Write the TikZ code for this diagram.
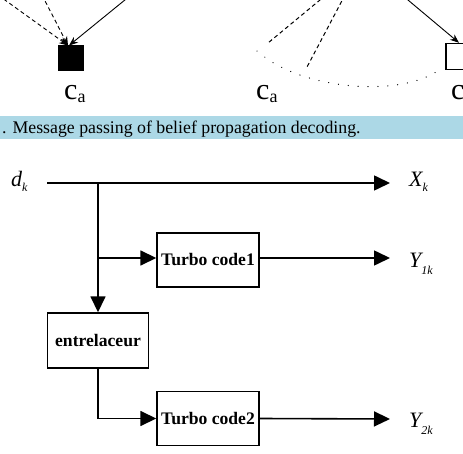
\documentclass[tikz,border=0pt]{standalone}
\usepackage{fontspec}
\setmainfont{Liberation Serif}
\usetikzlibrary{arrows.meta,positioning}
\definecolor{capblue}{RGB}{172,216,230}
\newcommand{\lowsub}[2][5pt]{\raisebox{-#1}{\fontsize{12}{12}\selectfont\itshape #2}}
\newcommand{\calabel}{{\fontsize{30}{30}\selectfont c}\raisebox{-3pt}{\fontsize{18}{18}\selectfont a}}
\tikzset{
  blk/.style={draw, line width=1.4pt, minimum width=102pt, minimum height=54pt,
    inner sep=0pt, font=\fontsize{17.6}{18}\selectfont\bfseries},
  wire/.style={line width=1.6pt},
  sig/.style={wire, -{Triangle[length=16pt,width=15pt]}},
  lbl/.style={inner sep=0pt, anchor=base west, font=\fontsize{22}{22}\selectfont\itshape},
  msg/.style={line width=0.9pt, -{Stealth[length=9pt,width=7pt]}},
  msgdash/.style={msg, dash pattern=on 4pt off 3pt},
}
\begin{document}
\begin{tikzpicture}[x=1pt,y=-1pt]
\path[use as bounding box, clip] (0,0) rectangle (463,454);
% top strip: end of the previous figure and its caption
\coordinate (P1) at (-2,-5);
\coordinate (P2) at (42,-5);
\coordinate (P3) at (131,-5);
\coordinate (Q1) at (326,-5);
\coordinate (Q1e) at (268,43);
\coordinate (Q2) at (345,-5);
\coordinate (Q2e) at (307,67);
\coordinate (R1) at (402,-5);
\coordinate (ArcL) at (257,51);
\coordinate (ArcR) at (439,70);

\node[draw, fill, line width=1pt, minimum size=25pt, inner sep=0pt] (sqA) at (71,58.5) {};
\node[draw, line width=1.4pt, minimum size=26pt, inner sep=0pt] (sqB) at (459,56.5) {};

\draw[msgdash] (P1) -- ([xshift=-3pt]sqA.north);
\draw[msgdash] (P2) -- ([xshift=-3pt]sqA.north);
\draw[msg] (P3) -- ([xshift=-2pt]sqA.north);
\draw[msg] (R1) -- (sqB.north);
\draw[line width=1pt, dash pattern=on 4pt off 3pt] (Q1) -- (Q1e) (Q2) -- (Q2e);
\draw[line width=1.2pt, line cap=round, dash pattern=on 0.1pt off 9.8pt]
  (ArcL) .. controls (300,90) and (400,98) .. (ArcR);

\foreach \n/\x in {caA/64, caB/256, caC/451}
{
  \node[inner sep=0pt, anchor=base west] (\n) at (\x,100) {\calabel};
};

\fill[capblue] (0,116) rectangle (463,139);
\node[inner sep=0pt, anchor=base west, font=\fontsize{17.8}{18}\selectfont] (cap) at (2,134)
  {. Message passing of belief propagation decoding.};

% turbo encoder
\coordinate (In) at (47,183);
\coordinate (OutX) at (390,183);
\coordinate (Fork) at (98,183);
\coordinate (Tap) at (98,258);
\coordinate (OutY1) at (390,258);
\coordinate (OutY2) at (390,419);

\node[blk] (tc1) at (208,260) {Turbo code1};
\node[blk, minimum width=101pt, minimum height=55pt] (ent) at (98,340.5) {entrelaceur};
\node[blk] (tc2) at (208,418.5) {Turbo code2};

\draw[sig] (In) -- (OutX);
\draw[sig] (Fork) -- (ent.north);
\draw[sig] (Tap) -- (Tap -| tc1.west);
\draw[sig] (Tap -| tc1.east) -- (OutY1);
\draw[sig] (ent.south) |- (tc2.west);
\draw[sig] (tc2.east) -- (OutY2);

\foreach \n/\x/\y/\t in {ldk/11/187/{d\lowsub{k}}, lxk/409/187/{X\lowsub{k}},
  ly1/409/268/{Y\lowsub[7pt]{1k}}, ly2/409/427/{Y\lowsub[7pt]{2k}}}
{
  \node[lbl] (\n) at (\x,\y) {\t};
};
\end{tikzpicture}
\end{document}
